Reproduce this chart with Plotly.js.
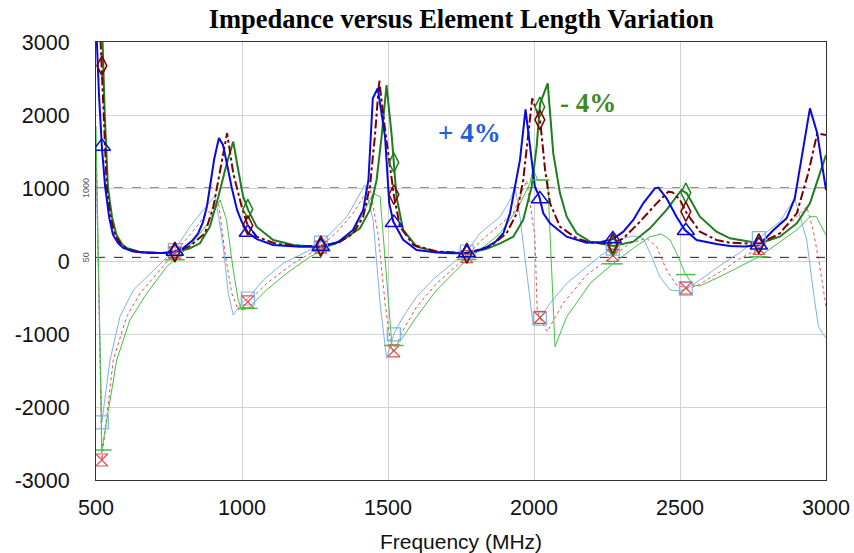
<!DOCTYPE html>
<html><head><meta charset="utf-8">
<script src="https://cdn.plot.ly/plotly-3.0.1.min.js"></script>
<style>html,body{margin:0;padding:0;background:#fff}#chart{width:854px;height:553px}</style>
</head><body><div id="chart"></div>
<script>
// ---- data (MHz, ohms) ----
const markerFreqs = [520,770,1020,1270,1520,1770,2020,2270,2520,2770];

// Resistance, +4% (blue)
const fBlueR = [500,510,520,531,545,558,575,593,627,680,740,770,800,830,850,866,880,890,905,921,935,950,965,983,1000,1020,1051,1106,1199,1270,1330,1380,1415,1433,1448,1465,1478,1490,1504,1518,1552,1598,1667,1720,1770,1830,1870,1895,1918,1935,1952,1971,1989,2003,2018,2032,2055,2112,2180,2230,2270,2306,2340,2374,2414,2426,2454,2488,2517,2557,2625,2671,2720,2770,2820,2865,2893,2945,2970,3000];
const rBlue  = [3300,2300,1570,1030,600,360,250,180,130,110,110,130,180,280,380,530,750,1040,1400,1685,1590,1300,1000,700,530,390,300,220,195,200,260,425,700,1110,2230,2366,2050,1700,800,540,290,150,115,105,110,170,270,380,657,1018,1384,2078,1475,1018,881,653,516,333,251,260,300,402,562,790,995,1005,858,607,425,288,233,205,200,215,425,585,858,2091,1749,973];

// Resistance, nominal (dark red)
const fRedR = [500,510,520,530,537,550,565,585,610,650,720,770,820,850,873,902,925,949,970,999,1019,1050,1118,1200,1270,1330,1381,1415,1438,1455,1470,1490,1521,1541,1587,1667,1770,1850,1906,1941,1963,1980,1994,2021,2038,2055,2089,2146,2192,2270,2306,2363,2420,2460,2475,2500,2523,2568,2625,2671,2771,2842,2900,2939,2970,3000];
const rRed  = [4500,3500,2676,1600,1000,600,356,230,160,120,110,125,200,300,379,744,1247,1753,1201,744,493,333,233,200,210,250,379,607,1018,1703,2470,1795,881,470,219,130,110,200,379,653,1110,1703,2229,1922,1247,790,470,311,250,240,311,539,790,950,940,836,653,402,288,250,233,379,653,1201,1749,1726];

// Resistance, -4% (green)
const fGreenR = [500,520,530,541,555,570,590,605,650,720,770,820,856,890,919,948,970,987,1004,1021,1050,1107,1176,1270,1320,1370,1404,1438,1461,1478,1495,1513,1518,1529,1552,1598,1667,1770,1840,1884,1929,1963,1992,2009,2021,2047,2066,2089,2112,2146,2192,2272,2340,2397,2454,2494,2505,2523,2568,2625,2671,2771,2842,2900,2945,2979,3000];
const rGreen  = [6000,3500,2000,1000,600,356,230,178,125,110,120,170,242,470,881,1338,1635,1247,881,699,470,288,219,190,240,356,448,699,1110,1703,2411,1703,1452,881,425,196,128,100,170,242,333,562,1018,1566,2160,2434,1475,927,607,379,265,205,265,448,699,927,973,927,607,402,311,242,333,516,790,1201,1452];

// Reactance, +4% (light blue)
const fBlueX = [500,520,548,582,628,696,740,770,822,867,896,907,920,936,953,970,999,1021,1073,1141,1233,1273,1359,1404,1421,1449,1473,1495,1521,1552,1598,1655,1701,1770,1815,1884,1918,1935,1952,1975,1997,2021,2055,2112,2180,2230,2272,2306,2340,2374,2403,2431,2466,2500,2523,2568,2648,2700,2762,2842,2893,2934,2956,2974,3000];
const xBlue  = [1300,-2210,-1356,-763,-397,-123,40,150,470,699,836,890,600,196,-442,-740,-575,-511,-260,-32,151,260,607,927,1041,562,-579,-1333,-991,-763,-489,-250,-100,130,379,607,836,1018,607,-123,-877,-785,-579,-306,-78,80,174,311,342,311,59,-215,-397,-411,-374,-260,-32,100,288,539,858,288,-397,-900,-1059];

// Reactance, nominal (red dotted)
const fRedX = [500,520,559,605,651,719,770,820,870,919,942,965,987,1021,1084,1176,1270,1330,1380,1438,1467,1490,1512,1520,1552,1598,1667,1770,1815,1929,1975,2003,2011,2021,2045,2100,2180,2272,2329,2386,2420,2454,2488,2523,2557,2648,2700,2771,2842,2900,2934,2956,2979,3000];
const xRed  = [1600,-2726,-1356,-763,-442,-123,110,350,600,813,105,-442,-671,-557,-306,-32,190,420,650,1018,333,-579,-1219,-1230,-945,-626,-306,60,265,653,1100,333,-671,-785,-968,-579,-192,82,242,311,196,-123,-329,-374,-342,-123,20,174,379,607,744,425,-78,-626];

// Reactance, -4% (light green)
const fGreenX = [500,520,571,616,674,742,776,830,880,925,947,970,987,999,1021,1084,1153,1233,1300,1370,1415,1449,1473,1484,1501,1513,1524,1552,1598,1667,1770,1815,1884,1941,1986,1997,2012,2047,2072,2112,2169,2192,2272,2340,2397,2437,2466,2494,2517,2545,2568,2648,2771,2842,2900,2945,2967,3000];
const xGreen  = [1850,-2589,-1356,-808,-442,-78,37,250,500,836,562,-123,-534,-671,-648,-397,-169,59,200,333,653,927,881,333,-579,-1128,-1174,-1037,-763,-397,20,151,379,699,1064,1269,1110,1110,-1174,-763,-442,-306,-32,174,333,370,288,59,-169,-329,-342,-192,59,265,425,607,607,356];

const xTicks = [500,1000,1500,2000,2500,3000];
const yTicks = [-3000,-2000,-1000,0,1000,2000,3000];
const refLines = [1000, 50];

// ---- helpers ----
function interp(fx, fy, f){
  for (let i=0;i<fx.length-1;i++){
    if (f>=fx[i] && f<=fx[i+1]){
      const t=(f-fx[i])/(fx[i+1]-fx[i]);
      return fy[i]+t*(fy[i+1]-fy[i]);
    }
  }
  return fy[fy.length-1];
}
const C = {
  blueR:'#0a0ad8', redR:'#7a0000', greenR:'#1e7d1e',
  blueX:'#7fb3e3', redX:'#e05050', greenX:'#45c045'
};
function lineTrace(fx, fy, color, width, dash){
  return {x:fx, y:fy, mode:'lines', type:'scatter', hoverinfo:'skip',
    line:{color:color, width:width, dash:dash||'solid'}};
}
function markTrace(fx, fy, color, symbol, size, lw){
  return {x:markerFreqs, y:markerFreqs.map(f=>interp(fx,fy,f)), mode:'markers', type:'scatter',
    hoverinfo:'skip', cliponaxis:true,
    marker:{symbol:symbol, size:size, color:color, line:{color:color, width:lw}}};
}

const traces = [
  lineTrace(fBlueX, xBlue, C.blueX, 1),
  lineTrace(fRedX, xRed, C.redX, 1, 'dot'),
  lineTrace(fGreenX, xGreen, C.greenX, 1),
  lineTrace(fGreenR, rGreen, C.greenR, 2),
  lineTrace(fRedR, rRed, C.redR, 2, 'dashdot'),
  lineTrace(fBlueR, rBlue, C.blueR, 2),
  markTrace(fBlueX, xBlue, C.blueX, 'square-open', 13, 1.2),
  markTrace(fRedX, xRed, C.redX, 'hourglass-open', 12, 1.2),
  markTrace(fGreenX, xGreen, C.greenX, 'line-ew-open', 14, 1.5),
  markTrace(fGreenR, rGreen, C.greenR, 'diamond-tall-open', 14, 1.5),
  markTrace(fRedR, rRed, C.redR, 'diamond-tall-open', 14, 1.5),
  markTrace(fBlueR, rBlue, C.blueR, 'triangle-up-open', 15, 1.5)
];

const shapes = refLines.map(v=>({type:'line', xref:'paper', x0:0, x1:1, yref:'y', y0:v, y1:v,
  line:{color:'#222', width:1, dash:'dash'}, layer:'below'}));

const annotations = [
  {text:'<b>+ 4%</b>', x:1780, y:1750, xref:'x', yref:'y', showarrow:false,
   font:{family:'Liberation Serif', size:27, color:'#1d5ed8'}},
  {text:'<b>- 4%</b>', x:2185, y:2165, xref:'x', yref:'y', showarrow:false,
   font:{family:'Liberation Serif', size:27, color:'#3b8a22'}}
].concat(refLines.map(v=>({text:String(v), xref:'paper', x:0, xanchor:'right', xshift:-3,
   yref:'y', y:v, showarrow:false, textangle:-90, font:{family:'Liberation Sans', size:9, color:'#555'}})));

const layout = {
  width:854, height:553,
  margin:{l:96, r:28, t:42, b:73},
  paper_bgcolor:'#fff', plot_bgcolor:'#fff',
  showlegend:false,
  title:{text:'<b>Impedance versus Element Length Variation</b>',
    font:{family:'Liberation Serif', size:26.5, color:'#000'}, x:0.54, xanchor:'center', y:0.967, yanchor:'middle'},
  xaxis:{range:[500,3000], tickvals:xTicks, ticktext:xTicks.map(String), showgrid:true, gridcolor:'#d2d2d2',
    zeroline:false, showline:true, mirror:true, linecolor:'#333', linewidth:1, ticks:'',
    tickfont:{family:'Liberation Sans', size:21.5, color:'#111'}, ticklabelstandoff:8,
    title:{text:'Frequency (MHz)', font:{family:'Liberation Sans', size:21, color:'#111'}, standoff:16}},
  yaxis:{range:[-3000,3000], tickvals:yTicks, ticktext:yTicks.map(String), showgrid:true, gridcolor:'#d2d2d2',
    zeroline:false, showline:true, mirror:true, linecolor:'#333', linewidth:1, ticks:'',
    tickfont:{family:'Liberation Sans', size:21.5, color:'#111'}, ticklabelstandoff:21},
  shapes:shapes,
  annotations:annotations
};
Plotly.newPlot('chart', traces, layout, {displayModeBar:false, staticPlot:true});
</script>
</body></html>
